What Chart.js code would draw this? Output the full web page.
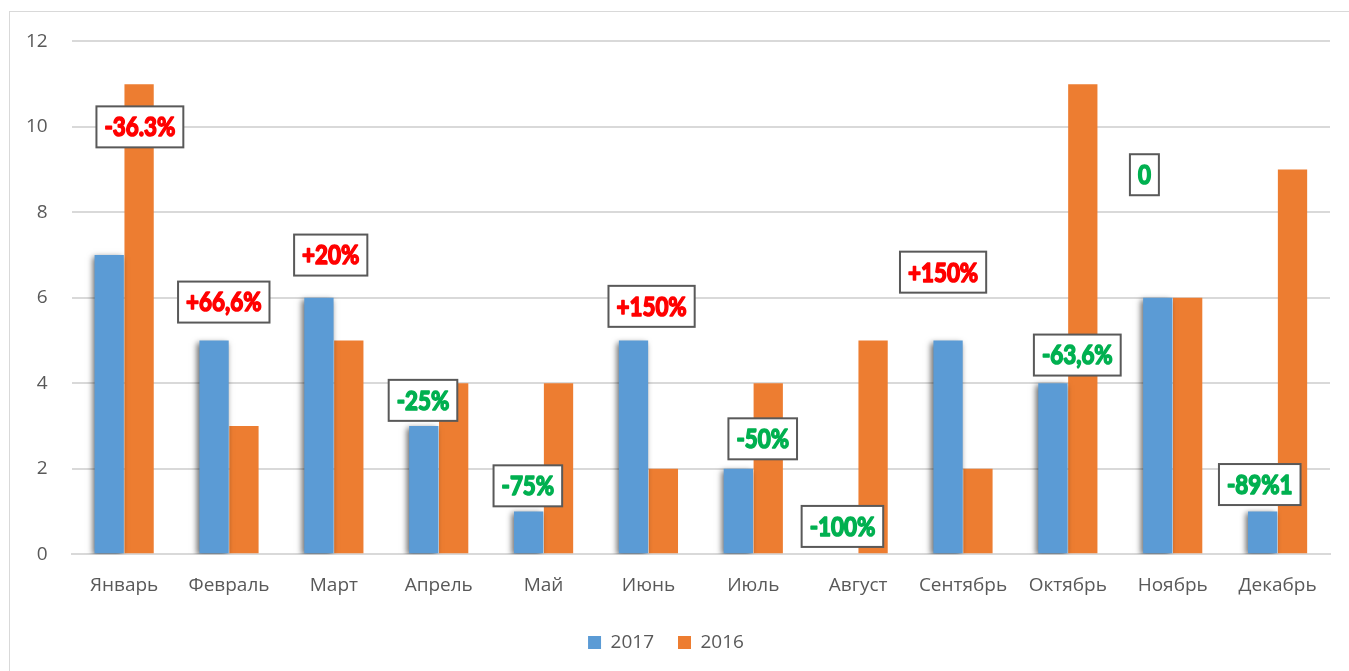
<!DOCTYPE html>
<html>
<head>
<meta charset="utf-8">
<script src="https://cdn.jsdelivr.net/npm/chart.js@4"></script>
<style>
    html, body { margin: 0; padding: 0; background: #ffffff; }
    #frame {
        position: absolute;
        left: 9px;
        top: 11px;
        width: 1340px;
        height: 662px;
        border: 1px solid #d9d9d9;
    }
    #chart { position: absolute; left: 0; top: 6px; display: block; }
</style>
</head>
<body>
<div id="frame"></div>
<canvas id="chart" width="1349" height="665"></canvas>
<script>
const months = ['Январь', 'Февраль', 'Март', 'Апрель', 'Май', 'Июнь', 'Июль', 'Август', 'Сентябрь', 'Октябрь', 'Ноябрь', 'Декабрь'];
const values2017 = [7, 5, 6, 3, 1, 5, 2, 0, 5, 4, 6, 1];
const values2016 = [11, 3, 5, 4, 4, 2, 4, 5, 2, 11, 6, 9];
const changeLabels = ['-36.3%', '+66,6%', '+20%', '-25%', '-75%', '+150%', '-50%', '-100%', '+150%', '-63,6%', '0', '-89%1'];
const changeTone = ['bad', 'bad', 'bad', 'good', 'good', 'bad', 'good', 'good', 'bad', 'good', 'good', 'good'];
const yTicks = [0, 2, 4, 6, 8, 10, 12];

// where each label box sits: y in axis units, x shift in category widths
const labelPlacement = [
    { y: 10.0, dx: 0.15 }, { y: 5.9, dx: -0.05 }, { y: 7.0, dx: -0.03 },
    { y: 3.6, dx: -0.15 }, { y: 1.6, dx: -0.15 }, { y: 5.8, dx: 0.03 },
    { y: 2.7, dx: 0.09 }, { y: 0.65, dx: -0.15 }, { y: 6.6, dx: -0.19 },
    { y: 4.66, dx: 0.09 }, { y: 8.88, dx: -0.27 }, { y: 1.63, dx: -0.17 }
];

const FONT = '"Open Sans", Lato, sans-serif';
const LABEL_FONT = 'Lato, "Open Sans", sans-serif';

const barShadow = {
    id: 'barShadow',
    beforeDatasetDraw(chart, args) {
        if (args.index !== 0) return;
        const ctx = chart.ctx;
        ctx.save();
        ctx.shadowColor = 'rgba(0, 0, 0, 0.6)';
        ctx.shadowBlur = 6;
        ctx.shadowOffsetX = -2;
        ctx.shadowOffsetY = 2;
    },
    afterDatasetDraw(chart, args) {
        if (args.index !== 0) return;
        chart.ctx.restore();
    }
};

const changeBoxes = {
    id: 'changeBoxes',
    afterDatasetsDraw(chart) {
        const ctx = chart.ctx;
        const xs = chart.scales.x;
        const ys = chart.scales.y;
        const step = xs.getPixelForValue(1) - xs.getPixelForValue(0);
        const squeeze = 0.86;
        ctx.save();
        ctx.font = 'bold 26px ' + LABEL_FONT;
        ctx.textAlign = 'center';
        ctx.textBaseline = 'middle';
        changeLabels.forEach((text, i) => {
            const p = labelPlacement[i];
            const cx = xs.getPixelForValue(i) + p.dx * step;
            const cy = ys.getPixelForValue(p.y);
            const w = ctx.measureText(text).width * squeeze + 16;
            const h = 41;
            ctx.fillStyle = '#ffffff';
            ctx.fillRect(cx - w / 2, cy - h / 2, w, h);
            ctx.lineWidth = 2;
            ctx.strokeStyle = '#595959';
            ctx.strokeRect(cx - w / 2, cy - h / 2, w, h);
            const col = changeTone[i] === 'good' ? '#00b050' : '#ff0000';
            ctx.save();
            ctx.translate(cx, cy + 1);
            ctx.scale(squeeze, 1);
            ctx.fillStyle = col;
            ctx.strokeStyle = col;
            ctx.lineWidth = 1.6;
            ctx.lineJoin = 'round';
            ctx.strokeText(text, 0, 0);
            ctx.fillText(text, 0, 0);
            ctx.restore();
        });
        ctx.restore();
    }
};

const ctx = document.getElementById('chart').getContext('2d');
new Chart(ctx, {
    type: 'bar',
    data: {
        labels: months,
        datasets: [
            {
                label: '2017',
                data: values2017,
                backgroundColor: '#5b9bd5',
                categoryPercentage: 0.57,
                barPercentage: 0.98
            },
            {
                label: '2016',
                data: values2016,
                backgroundColor: '#ed7d31',
                categoryPercentage: 0.57,
                barPercentage: 0.98
            }
        ]
    },
    options: {
        responsive: false,
        animation: false,
        layout: { padding: { left: 2, right: 19, top: 33, bottom: 9 } },
        plugins: {
            legend: {
                position: 'bottom',
                labels: {
                    boxWidth: 13,
                    boxHeight: 13,
                    padding: 24,
                    color: '#595959',
                    font: { family: FONT, size: 19 }
                }
            },
            tooltip: { enabled: false }
        },
        scales: {
            x: {
                grid: { display: false },
                border: { color: '#d9d9d9', width: 2 },
                ticks: { color: '#595959', font: { family: FONT, size: 19 }, padding: 12 }
            },
            y: {
                min: 0,
                max: 12,
                afterBuildTicks(axis) { axis.ticks = yTicks.map(v => ({ value: v })); },
                grid: { color: '#d9d9d9', lineWidth: 2, drawTicks: false },
                border: { display: false },
                ticks: { color: '#595959', font: { family: FONT, size: 19 }, padding: 24 }
            }
        }
    },
    plugins: [barShadow, changeBoxes]
});
</script>
</body>
</html>
